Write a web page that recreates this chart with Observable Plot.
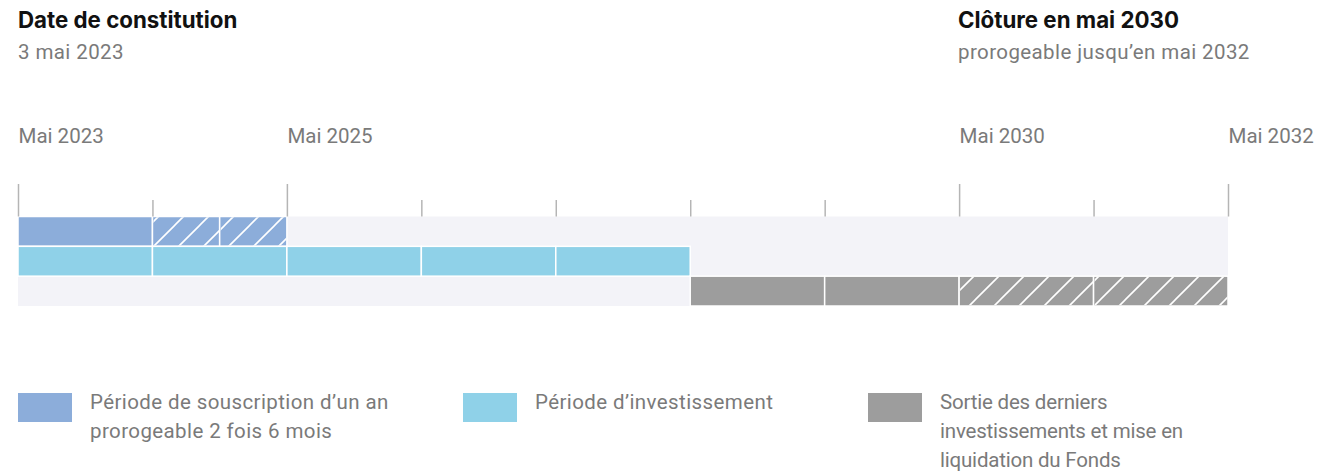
<!DOCTYPE html>
<html>
<head>
<meta charset="utf-8">
<script src="https://cdn.jsdelivr.net/npm/d3@7"></script>
<script src="https://cdn.jsdelivr.net/npm/@observablehq/plot@0.6"></script>
<style>
  body { margin: 0; background: #fff; width: 1318px; height: 475px; position: relative; overflow: hidden; font-family: Roboto, sans-serif; }
  .h { position: absolute; font-family: Inter, sans-serif; font-weight: 700; font-size: 22.3px; color: #111; white-space: nowrap; }
  .s { position: absolute; font-family: Roboto, sans-serif; font-size: 20.5px; color: #7a7a7a; white-space: nowrap; letter-spacing: 0.4px; }
  #chart { position: absolute; left: 0; top: 100px; }
  .lg { position: absolute; top: 393px; display: flex; }
  .sw { width: 54px; height: 29px; flex: none; }
  .lt { margin-left: 18px; font-size: 20.5px; line-height: 29px; color: #7a7a7a; margin-top: -5px; letter-spacing: 0.4px; white-space: nowrap; }
</style>
</head>
<body>
<div class="h" style="left:18px; top:6px;">Date de constitution</div>
<div class="s" style="left:18px; top:40px;">3 mai 2023</div>
<div class="h" style="left:958px; top:6px;">Clôture en mai 2030</div>
<div class="s" style="left:958px; top:40px;">prorogeable jusqu’en mai 2032</div>
<div id="chart"></div>
<div id="legend"></div>
<script>
// ---- data ----
const rows = ["souscription", "investissement", "sortie"];
const segStart = [2023, 2024, 2024.5, 2023, 2024, 2025, 2026, 2027, 2028, 2029, 2030, 2031];
const segEnd   = [2024, 2024.5, 2025, 2024, 2025, 2026, 2027, 2028, 2029, 2030, 2031, 2032];
const segRow   = [0, 0, 0, 1, 1, 1, 1, 1, 2, 2, 2, 2];
const segHatch = [false, true, true, false, false, false, false, false, false, false, true, true];
const majorTicks = [2023, 2025, 2030, 2032];
const minorTicks = [2024, 2026, 2027, 2028, 2029, 2031];
const tickLabels = ["Mai 2023", "Mai 2025", "Mai 2030", "Mai 2032"];
const domainStart = 2023, domainEnd = 2032;
const legendLabels = [
  "Période de souscription d’un an<br>prorogeable 2 fois 6 mois",
  "Période d’investissement",
  "Sortie des derniers<br>investissements et mise en<br>liquidation du Fonds"
];
const colors = ["#8cadda", "#8fd1e8", "#9d9d9d"];

const segs = segStart.map((s, i) => ({start: s, end: segEnd[i], row: segRow[i], hatch: segHatch[i]}));
const bg = [{start: domainStart, end: domainEnd, y1: 0, y2: rows.length}];
const majors = majorTicks.map((t, i) => ({x: t, label: tickLabels[i]}));

const W = 1318, H = 230;
const plot = Plot.plot({
  width: W, height: H,
  marginLeft: 18, marginRight: 90, marginTop: 84, marginBottom: 24,
  x: {domain: [domainStart, domainEnd], axis: null},
  y: {domain: [0, 3], range: [116.5, 206], axis: null},
  marks: [
    Plot.rect(bg, {x1: "start", x2: "end", y1: "y1", y2: "y2", fill: "#f3f3f8"}),
    Plot.rect(segs, {x1: "start", x2: "end", y1: "row", y2: d => d.row + 1, fill: d => colors[d.row], stroke: "white", strokeWidth: 1.5}),
    Plot.rect(segs.filter(d => d.hatch), {x1: "start", x2: "end", y1: "row", y2: d => d.row + 1, fill: "url(#hatch)", insetLeft: 1, insetRight: 0.5, insetTop: 0.75, insetBottom: 0.75}),
    Plot.ruleX(majorTicks, {x: d => d, stroke: "#b5b5b5", strokeWidth: 1.5, insetBottom: 89.5}),
    Plot.ruleX(minorTicks, {x: d => d, stroke: "#b5b5b5", strokeWidth: 1.5, insetTop: 16, insetBottom: 89.5}),
    Plot.text(majors, {x: "x", text: "label", frameAnchor: "top", dy: -48, textAnchor: "start", lineAnchor: "middle", fill: "#7a7a7a", fontSize: 20.5, fontFamily: "Roboto", style: "letter-spacing:0.4px"})
  ]
});
// hatch pattern
const ns = "http://www.w3.org/2000/svg";
const defs = document.createElementNS(ns, "defs");
defs.innerHTML = `<pattern id="hatch" patternUnits="userSpaceOnUse" width="25" height="25">
  <path d="M-5,5 L5,-5 M0,25 L25,0 M20,30 L30,20" stroke="white" stroke-width="1.6" fill="none"/>
</pattern>`;
plot.insertBefore(defs, plot.firstChild);
document.getElementById("chart").appendChild(plot);

// legend
const legendX = [18, 463, 868];
const legendSpacing = ["0.4px", "0.4px", "-0.2px"];
const lg = document.getElementById("legend");
legendLabels.forEach((t, i) => {
  const d = document.createElement("div");
  d.className = "lg";
  d.style.left = legendX[i] + "px";
  d.innerHTML = `<div class="sw" style="background:${colors[i]}"></div><div class="lt" style="letter-spacing:${legendSpacing[i]}">${t}</div>`;
  lg.appendChild(d);
});
</script>
</body>
</html>
